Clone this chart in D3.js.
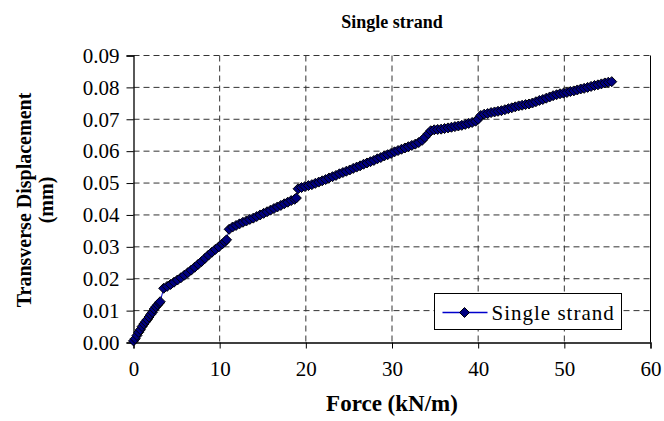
<!DOCTYPE html>
<html>
<head>
  <meta charset="utf-8">
  <script src="https://d3js.org/d3.v7.min.js"></script>
  <style>
    body { margin: 0; background: #fff; }
  </style>
</head>
<body>
  <div id="chart"></div>
  <script type="text/javascript">
  // force (kN/m)
  var force = [
    0, 0.2, 0.4, 0.6, 0.8, 1.0, 1.2, 1.4, 1.6, 1.8, 2.0, 2.2, 2.4, 2.6, 2.8, 3.0, 3.1,
    3.5, 3.9, 4.3, 4.7, 5.1, 5.5, 5.9, 6.3, 6.7, 7.1, 7.5, 7.9, 8.3, 8.7, 9.1, 9.5, 9.9, 10.3, 10.6, 10.8,
    11.1, 11.5, 11.9, 12.3, 12.7, 13.1, 13.5, 13.9, 14.3, 14.7, 15.1, 15.5, 15.9, 16.3, 16.7, 17.1, 17.5, 17.9, 18.3, 18.7, 18.9,
    19.1, 19.5, 19.9, 20.3, 20.7, 21.1, 21.5, 21.9, 22.3, 22.7, 23.1, 23.5, 23.9, 24.3, 24.7, 25.1, 25.5, 25.9,
    26.3, 26.7, 27.1, 27.5, 27.9, 28.3, 28.7, 29.1, 29.5, 29.9, 30.3, 30.7, 31.1, 31.5, 31.9, 32.3, 32.7, 33.1, 33.5, 33.8,
    34.2, 34.5, 34.9, 35.3, 35.7, 36.1, 36.5, 36.9, 37.3, 37.7, 38.1, 38.5, 38.9, 39.3, 39.7, 40.0,
    40.3, 40.7, 41.1, 41.5, 41.9, 42.3, 42.7, 43.1, 43.5, 43.9, 44.3, 44.7, 45.1, 45.5, 45.9, 46.3, 46.7, 47.1, 47.5,
    47.9, 48.3, 48.7, 49.1, 49.5, 49.9, 50.3, 50.7, 51.1, 51.5, 51.9, 52.3, 52.7, 53.1, 53.5, 53.9, 54.3, 54.7, 55.1, 55.5
  ];
  // transverse displacement (mm)
  var displacement = [
    0.0005, 0.0012, 0.0022, 0.0032, 0.0040, 0.0050, 0.0058, 0.0065, 0.0072, 0.0080, 0.0088, 0.0095, 0.0105, 0.0112, 0.0118, 0.0124, 0.0128,
    0.0170, 0.0176, 0.0182, 0.0189, 0.0196, 0.0203, 0.0211, 0.0219, 0.0227, 0.0236, 0.0245, 0.0254, 0.0264, 0.0274, 0.0283, 0.0292, 0.0300, 0.0309, 0.0316, 0.0322,
    0.0355, 0.0362, 0.0367, 0.0372, 0.0377, 0.0381, 0.0386, 0.0390, 0.0395, 0.0400, 0.0405, 0.0410, 0.0415, 0.0420, 0.0425, 0.0430, 0.0435, 0.0440, 0.0445, 0.0449, 0.0453,
    0.0482, 0.0486, 0.0489, 0.0492, 0.0495, 0.0499, 0.0503, 0.0507, 0.0511, 0.0516, 0.0520, 0.0524, 0.0529, 0.0533, 0.0537, 0.0541, 0.0546, 0.0550,
    0.0554, 0.0559, 0.0563, 0.0567, 0.0571, 0.0576, 0.0580, 0.0585, 0.0589, 0.0593, 0.0598, 0.0602, 0.0606, 0.0610, 0.0614, 0.0618, 0.0622, 0.0627, 0.0634, 0.0643,
    0.0655, 0.0664, 0.0667, 0.0668, 0.0669, 0.0671, 0.0673, 0.0675, 0.0677, 0.0679, 0.0681, 0.0684, 0.0687, 0.0690, 0.0694, 0.0700,
    0.0712, 0.0716, 0.0718, 0.0721, 0.0723, 0.0725, 0.0727, 0.0730, 0.0733, 0.0736, 0.0739, 0.0742, 0.0744, 0.0746, 0.0748, 0.0751, 0.0755, 0.0759, 0.0762,
    0.0766, 0.0770, 0.0774, 0.0777, 0.0780, 0.0782, 0.0784, 0.0787, 0.0789, 0.0792, 0.0795, 0.0797, 0.0800, 0.0803, 0.0806, 0.0808, 0.0811, 0.0814, 0.0816, 0.0818
  ];
  var xTicks = [0, 10, 20, 30, 40, 50, 60];
  var yTicks = [0, 0.01, 0.02, 0.03, 0.04, 0.05, 0.06, 0.07, 0.08, 0.09];
  var seriesName = "Single strand";

  var serif = "Liberation Serif, Times New Roman, serif";
  var width = 664, height = 421;
  var margin = { top: 55.5, right: 13.5, bottom: 78.5, left: 133.5 };
  var plotW = width - margin.left - margin.right;
  var plotH = height - margin.top - margin.bottom;

  var svg = d3.select("#chart").append("svg")
      .attr("width", width)
      .attr("height", height)
      .style("font-family", serif);

  var x = d3.scaleLinear().domain([0, 60]).range([0, plotW]);
  var y = d3.scaleLinear().domain([0, 0.09]).range([plotH, 0]);

  var g = svg.append("g")
      .attr("transform", "translate(" + margin.left + "," + margin.top + ")");

  // dashed grid
  g.selectAll(".vgrid")
      .data(xTicks.slice(1, -1))
    .enter().append("line")
      .attr("x1", function(d) { return x(d); })
      .attr("x2", function(d) { return x(d); })
      .attr("y1", 0).attr("y2", plotH)
      .attr("stroke", "#333").attr("stroke-width", 1)
      .attr("stroke-dasharray", "6,4");

  g.selectAll(".hgrid")
      .data(yTicks.slice(1))
    .enter().append("line")
      .attr("x1", 0).attr("x2", plotW)
      .attr("y1", function(d) { return y(d); })
      .attr("y2", function(d) { return y(d); })
      .attr("stroke", "#333").attr("stroke-width", 1)
      .attr("stroke-dasharray", "6,4");

  // right border
  g.append("line")
      .attr("x1", plotW).attr("x2", plotW)
      .attr("y1", 0).attr("y2", plotH)
      .attr("stroke", "#000");

  // axes
  var xAxis = g.append("g")
      .attr("transform", "translate(0," + plotH + ")")
      .call(d3.axisBottom(x).tickValues(xTicks).tickSize(6).tickPadding(13).tickFormat(d3.format("d")));
  var yAxis = g.append("g")
      .call(d3.axisLeft(y).tickValues(yTicks).tickSize(7).tickPadding(7).tickFormat(d3.format(".2f")));

  [xAxis, yAxis].forEach(function(a) {
    a.attr("font-family", serif).attr("font-size", 21);
    a.select(".domain").attr("stroke", "#000").attr("stroke-width", 1.3);
    a.selectAll(".tick line").attr("stroke", "#000");
    a.selectAll(".tick text").attr("fill", "#000");
  });

  // series
  var pts = force.map(function(f, i) { return { x: f, y: displacement[i] }; });

  var line = d3.line()
      .x(function(d) { return x(d.x); })
      .y(function(d) { return y(d.y); });

  g.append("path")
      .datum(pts)
      .attr("d", line)
      .attr("fill", "none")
      .attr("stroke", "#0000cc")
      .attr("stroke-width", 1);

  var diamond = "M0,-5L5,0L0,5L-5,0Z";

  g.selectAll(".pt")
      .data(pts)
    .enter().append("path")
      .attr("d", diamond)
      .attr("transform", function(d) { return "translate(" + x(d.x) + "," + y(d.y) + ")"; })
      .attr("fill", "#000080")
      .attr("stroke", "#000")
      .attr("stroke-width", 1);

  // legend
  var lg = svg.append("g").attr("transform", "translate(434.5,293.5)");
  lg.append("rect")
      .attr("width", 187).attr("height", 36)
      .attr("fill", "#fff").attr("stroke", "#000").attr("stroke-width", 1);
  lg.append("line")
      .attr("x1", 8).attr("x2", 53).attr("y1", 19).attr("y2", 19)
      .attr("stroke", "#0000cc").attr("stroke-width", 1.5);
  lg.append("path")
      .attr("d", diamond)
      .attr("transform", "translate(30,19)")
      .attr("fill", "#000080").attr("stroke", "#000");
  lg.append("text")
      .attr("x", 57).attr("y", 26)
      .attr("font-size", 21)
      .attr("letter-spacing", 1)
      .text(seriesName);

  // titles
  svg.append("text")
      .attr("x", 392).attr("y", 28)
      .attr("text-anchor", "middle")
      .attr("font-size", 18).attr("font-weight", "bold")
      .text("Single strand");

  svg.append("text")
      .attr("x", 392).attr("y", 411)
      .attr("text-anchor", "middle")
      .attr("font-size", 23).attr("font-weight", "bold")
      .text("Force (kN/m)");

  var yl = svg.append("text")
      .attr("transform", "translate(31,200) rotate(-90)")
      .attr("text-anchor", "middle")
      .attr("font-size", 20).attr("font-weight", "bold");
  yl.append("tspan").attr("x", 0).attr("dy", 0).text("Transverse Displacement");
  yl.append("tspan").attr("x", 0).attr("dy", 22).text("(mm)");
  </script>
</body>
</html>
